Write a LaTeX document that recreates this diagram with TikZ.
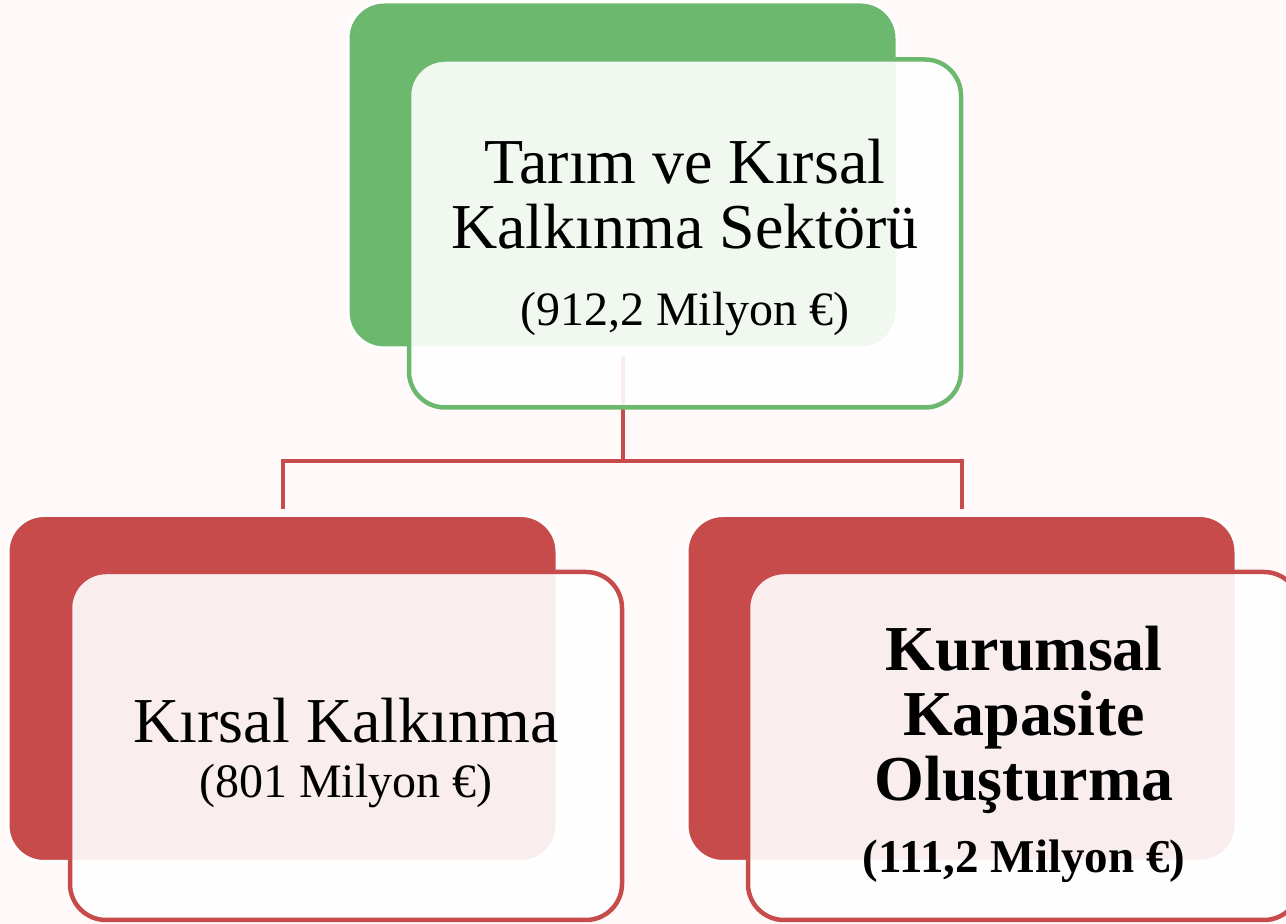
\documentclass[tikz,border=0pt]{standalone}
\usepackage{fontspec}
\setmainfont{Liberation Serif}
\usetikzlibrary{positioning}
\definecolor{bgpink}{RGB}{255,250,249}
\definecolor{leafgreen}{RGB}{109,184,111}
\definecolor{brickred}{RGB}{199,75,75}

\begin{document}
\begin{tikzpicture}[x=1pt, y=1pt,
      back/.style={rectangle, rounded corners=36pt, draw=white, line width=3pt, minimum width=549pt, minimum height=346pt},
      front/.style={rectangle, rounded corners=36pt, line width=4.5pt, fill=white, fill opacity=0.9, draw opacity=1, minimum width=552pt, minimum height=348pt},
      big/.style={align=center, font=\fontsize{64}{65}\selectfont},
      bigbold/.style={align=center, font=\fontsize{64}{65}\selectfont\bfseries},
      link/.style={draw=brickred, line width=4pt}]

      % Background
      \fill[bgpink] (0,0) rectangle (1286,924);
      \useasboundingbox (0,0) rectangle (1286,924);

      % Back panels
      \node[back, fill=leafgreen] (tarimBack) at (622.5,749) {};
      \node[back, fill=brickred] (kirsalBack) at (282.5,235.5) {};
      \node[back, fill=brickred] (kurumsalBack) at (961.5,235.5) {};

      % Connectors
      \draw[link] ([yshift=-7pt]tarimBack.south) -- ++(0,-105) coordinate (split);
      \draw[link] (split) -| ([yshift=5pt]kirsalBack.north);
      \draw[link] (split) -| ([yshift=5pt]kurumsalBack.north);

      % Front panels
      \node[front, draw=leafgreen] (tarim) at (685,690.5) {};
      \node[front, draw=brickred] (kirsal) at (346,178) {};
      \node[front, draw=brickred] (kurumsal) at (1024,178) {};

      % Texts
      \node[big] (tarimText) at ([yshift=-3.5pt]tarim.center) {Tarım ve Kırsal\\Kalkınma Sektörü\\[12pt]{\fontsize{48}{50}\selectfont (912,2 Milyon €)}};
      \node[big] (kirsalText) at ([yshift=-6.5pt]kirsal.center) {Kırsal Kalkınma\\[-10pt]{\fontsize{48}{50}\selectfont (801 Milyon €)}};
      \node[bigbold] (kurumsalText) at ([yshift=-8pt]kurumsal.center) {Kurumsal\\Kapasite\\Oluşturma\\[7pt]{\fontsize{47}{50}\selectfont (111,2 Milyon €)}};
    \end{tikzpicture}
\end{document}
